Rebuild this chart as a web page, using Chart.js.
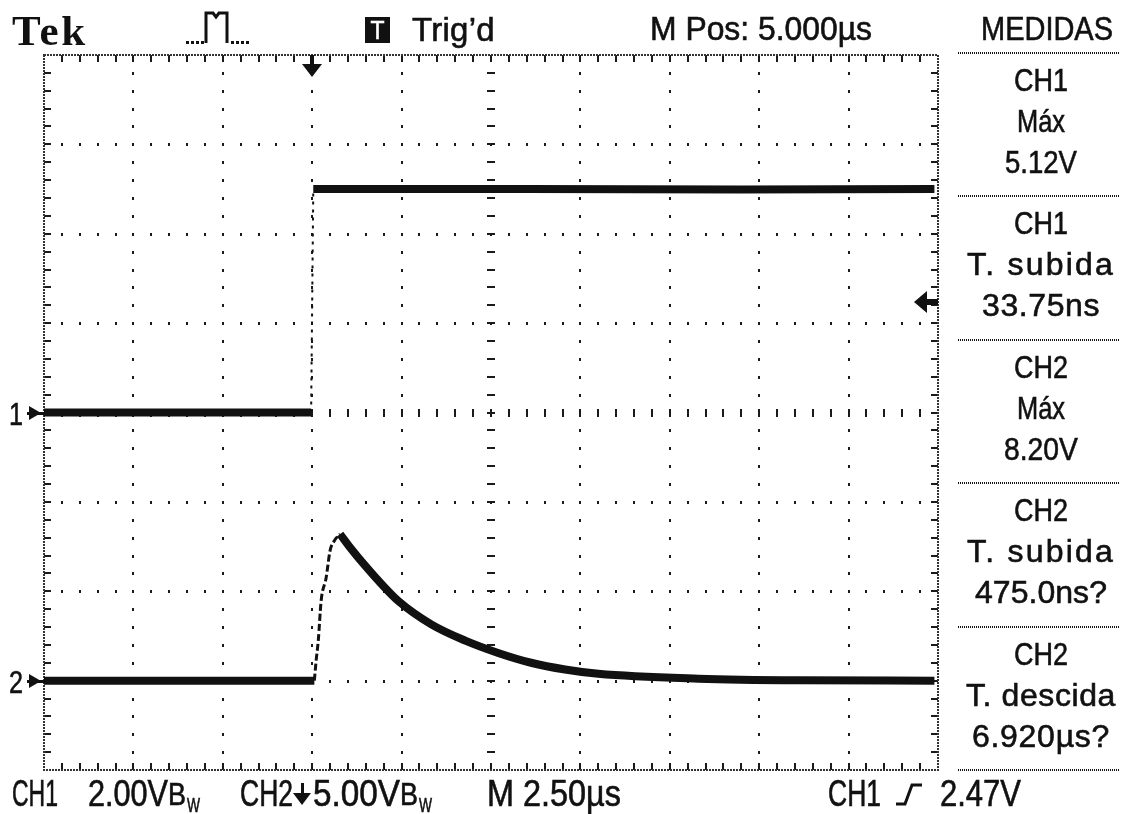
<!DOCTYPE html>
<html>
<head>
<meta charset="utf-8">
<title>Tek</title>
<script src="https://cdn.jsdelivr.net/npm/chart.js@4.4.0/dist/chart.umd.min.js"></script>
<style>
  html, body { margin: 0; padding: 0; background: #fff; }
  canvas { display: block; }
</style>
</head>
<body>
<canvas id="scope" width="1121" height="814"></canvas>
<script>
// timebase: 2.50 us/div, 10 div across, trigger 3 div from the left
const timeDivs = 10;
const usPerDiv = 2.5;
const preTrigDivs = 3;
const vertDivs = 8;

// CH1: 2.00 V/div, ground on the centre line
const ch1VoltsPerDiv = 2.0;
const ch1Ground = 0;
const ch1Time  = [-7.55, -0.03, 0.03, 6.0, 12.0, 17.4];
const ch1Volts = [0, 0, 5.0, 5.0, 4.99, 5.0];

// CH2: 5.00 V/div, ground 3 div below centre
const ch2VoltsPerDiv = 5.0;
const ch2Ground = -3;
const ch2Time  = [-7.55, 0.06, 0.11, 0.17, 0.25, 0.39, 0.50, 0.62, 0.78, 1.06, 1.48, 1.93, 2.40, 3.33, 4.28, 5.20, 6.12, 7.07, 8.0, 10.8, 13.6, 17.4];
const ch2Volts = [0, 0, 1.12, 2.24, 4.47, 5.76, 7.27, 7.83, 8.2, 7.45, 6.43, 5.42, 4.47, 3.15, 2.24, 1.55, 1.0, 0.62, 0.38, 0.11, 0.02, 0.0];
const ch2PeakIdx = 8;

const trigLevel = 2.47; // volts on CH1

// readouts
const headerTexts = ['Trig\u2019d', 'M Pos: 5.000\u00b5s', 'MEDIDAS'];
const measBlocks = [
  ['CH1', 'M\u00e1x', '5.12V'],
  ['CH1', 'T. subida', '33.75ns'],
  ['CH2', 'M\u00e1x', '8.20V'],
  ['CH2', 'T. subida', '475.0ns?'],
  ['CH2', 'T. descida', '6.920\u00b5s?']
];
const footerTexts = ['CH1', '2.00V', 'CH2', '5.00V', 'M 2.50\u00b5s', 'CH1', '2.47V'];

const tMin = -preTrigDivs * usPerDiv;
const tMax = tMin + timeDivs * usPerDiv;

function toDivs(times, volts, vpd, gnd, from, to) {
  const out = [];
  for (let i = from; i <= to; i++) out.push({ x: times[i], y: gnd + volts[i] / vpd });
  return out;
}

const LCD = '"Liberation Sans", Arial, sans-serif';

// text fitted to a given width (wide strings get letter spacing), cap height in px
function lcd(c, str, x, y, w, cap, align, family, bold) {
  c.save();
  c.font = (bold ? 'bold ' : '') + Math.round(cap / 0.72) + 'px ' + (family || LCD);
  c.textAlign = 'left';
  c.textBaseline = 'alphabetic';
  let m = c.measureText(str).width;
  if (w > m && str.length > 1 && 'letterSpacing' in c) {
    c.letterSpacing = ((w - m) / str.length).toFixed(2) + 'px';
    m = c.measureText(str).width;
  }
  const left = align === 'center' ? x - w / 2 : x;
  c.translate(left, y);
  c.scale(w / m, 1);
  c.fillText(str, 0, 0);
  if (!bold) {
    c.lineWidth = 0.6;
    c.strokeStyle = c.fillStyle;
    c.strokeText(str, 0, 0);
  }
  c.restore();
}

const graticule = {
  id: 'graticule',
  beforeDatasetsDraw(chart) {
    const c = chart.ctx, a = chart.chartArea;
    const xs = chart.scales.x, ys = chart.scales.y;
    const minorPerDiv = 5;
    c.save();
    c.fillStyle = '#1a1a1a';

    // dotted major lines, one dot per minor division
    for (let k = 1; k < timeDivs; k++) {
      const x = Math.round(xs.getPixelForValue(tMin + k * usPerDiv));
      for (let j = 1; j < vertDivs * minorPerDiv; j++) {
        const y = Math.round(ys.getPixelForValue(-vertDivs / 2 + j / minorPerDiv));
        if (k === timeDivs / 2) c.fillRect(x - 4, y - 1, 8, 2);
        else c.fillRect(x - 1, y - 1, 2, 3);
      }
    }
    for (let k = 1; k < vertDivs; k++) {
      const y = Math.round(ys.getPixelForValue(-vertDivs / 2 + k));
      for (let j = 1; j < timeDivs * minorPerDiv; j++) {
        const x = Math.round(xs.getPixelForValue(tMin + j * usPerDiv / minorPerDiv));
        if (k === vertDivs / 2) c.fillRect(x - 1, y - 4, 2, 8);
        else c.fillRect(x - 1, y - 1, 2, 3);
      }
    }

    // border ticks
    for (let j = 1; j < timeDivs * minorPerDiv; j++) {
      const x = Math.round(xs.getPixelForValue(tMin + j * usPerDiv / minorPerDiv));
      c.fillRect(x - 1, a.top, 2, 7);
      c.fillRect(x - 1, a.bottom - 7, 2, 7);
    }
    for (let j = 1; j < vertDivs * minorPerDiv; j++) {
      const y = Math.round(ys.getPixelForValue(-vertDivs / 2 + j / minorPerDiv));
      c.fillRect(a.left, y - 1, 7, 2);
      c.fillRect(a.right - 7, y - 1, 7, 2);
    }
    c.strokeStyle = '#333';
    c.lineWidth = 2;
    c.setLineDash([2, 1]);
    c.strokeRect(a.left, a.top, a.right - a.left, a.bottom - a.top);
    c.restore();
  },
  afterDraw(chart) {
    const c = chart.ctx, a = chart.chartArea;
    const xs = chart.scales.x, ys = chart.scales.y;
    c.save();
    c.fillStyle = '#111';
    c.strokeStyle = '#111';

    // header
    lcd(c, 'Tek', 12, 45, 76, 31, 'left', '"Liberation Serif", "DejaVu Serif", serif', true);
    c.lineWidth = 3;
    c.beginPath();
    c.moveTo(206, 43); c.lineTo(206, 13); c.lineTo(213, 13); c.lineTo(216, 17);
    c.lineTo(219, 13); c.lineTo(227, 13); c.lineTo(227, 43);
    c.stroke();
    for (let x = 186; x < 204; x += 5) c.fillRect(x, 41, 3, 3);
    for (let x = 231; x < 250; x += 5) c.fillRect(x, 41, 3, 3);
    c.fillRect(365, 17, 25, 26);
    c.fillStyle = '#fff';
    lcd(c, 'T', 377.5, 39, 14, 19, 'center');
    c.fillStyle = '#111';
    lcd(c, headerTexts[0], 412, 41, 83, 24, 'left');
    lcd(c, headerTexts[1], 650, 40, 222, 24, 'left');
    lcd(c, headerTexts[2], 981, 40, 132, 24, 'left');

    // measurement panel
    const sepY = [53, 196, 340, 483, 627, 770];
    c.lineWidth = 2;
    c.setLineDash([1, 1]);
    sepY.forEach(y => { c.beginPath(); c.moveTo(958, y); c.lineTo(1119, y); c.stroke(); });
    c.setLineDash([]);
    const panelW = {
      'CH1': 54, 'CH2': 54, 'M\u00e1x': 48, '5.12V': 72, '8.20V': 74,
      'T. subida': 148, 'T. descida': 150, '33.75ns': 118, '475.0ns?': 132, '6.920\u00b5s?': 138
    };
    measBlocks.forEach((blk, b) => {
      blk.forEach((s, i) => {
        lcd(c, s, 1041, sepY[b] + 38 + i * 41, panelW[s], 23, 'center');
      });
    });

    // footer
    lcd(c, footerTexts[0], 12, 806, 46, 26, 'left');
    lcd(c, footerTexts[1], 88, 806, 80, 26, 'left');
    lcd(c, 'B', 168, 805, 18, 22, 'left');
    lcd(c, 'W', 187, 812, 13, 15, 'left');
    lcd(c, footerTexts[2], 240, 806, 53, 26, 'left');
    c.fillRect(301, 783, 3, 12);
    c.beginPath(); c.moveTo(293, 793); c.lineTo(311, 793); c.lineTo(302, 805); c.closePath(); c.fill();
    lcd(c, footerTexts[3], 313, 806, 87, 26, 'left');
    lcd(c, 'B', 400, 805, 18, 22, 'left');
    lcd(c, 'W', 419, 812, 13, 15, 'left');
    lcd(c, footerTexts[4], 487, 806, 134, 26, 'left');
    lcd(c, footerTexts[5], 828, 806, 53, 26, 'left');
    c.lineWidth = 3;
    c.beginPath();
    c.moveTo(896, 804); c.lineTo(905, 804); c.lineTo(912, 785); c.lineTo(922, 785);
    c.stroke();
    lcd(c, footerTexts[6], 940, 806, 81, 26, 'left');

    // trigger position marker
    const tx = Math.round(xs.getPixelForValue(0));
    c.fillRect(tx - 2, a.top, 4, 12);
    c.beginPath(); c.moveTo(tx - 10, a.top + 9); c.lineTo(tx + 10, a.top + 9); c.lineTo(tx, a.top + 22); c.closePath(); c.fill();

    // trigger level marker
    const ty = Math.round(ys.getPixelForValue(ch1Ground + trigLevel / ch1VoltsPerDiv));
    c.fillRect(a.right - 12, ty - 3, 12, 6);
    c.beginPath(); c.moveTo(a.right - 24, ty); c.lineTo(a.right - 11, ty - 11); c.lineTo(a.right - 11, ty + 11); c.closePath(); c.fill();

    // channel ground markers
    [[ '1', ch1Ground ], [ '2', ch2Ground ]].forEach(([lbl, g]) => {
      const y = Math.round(ys.getPixelForValue(g));
      lcd(c, lbl, 9, y + 12, 14, 23, 'left');
      c.fillRect(27, y - 1, a.left - 27, 3);
      c.beginPath(); c.moveTo(29, y - 7); c.lineTo(41, y); c.lineTo(29, y + 7); c.closePath(); c.fill();
    });
    c.restore();
  }
};

const trace = (data, width, dash, smooth) => ({
  data, showLine: true, borderColor: '#111', borderWidth: width,
  borderDash: dash || [], pointRadius: 0, fill: false,
  cubicInterpolationMode: smooth ? 'monotone' : 'default', tension: smooth ? 0.4 : 0
});

new Chart(document.getElementById('scope'), {
  type: 'scatter',
  data: {
    datasets: [
      trace(toDivs(ch1Time, ch1Volts, ch1VoltsPerDiv, ch1Ground, 0, 1), 8),
      trace(toDivs(ch1Time, ch1Volts, ch1VoltsPerDiv, ch1Ground, 1, 2), 2, [3, 5]),
      trace(toDivs(ch1Time, ch1Volts, ch1VoltsPerDiv, ch1Ground, 2, ch1Time.length - 1), 8),
      trace(toDivs(ch2Time, ch2Volts, ch2VoltsPerDiv, ch2Ground, 0, 1), 8),
      trace(toDivs(ch2Time, ch2Volts, ch2VoltsPerDiv, ch2Ground, 1, ch2PeakIdx), 3, [7, 3], true),
      trace(toDivs(ch2Time, ch2Volts, ch2VoltsPerDiv, ch2Ground, ch2PeakIdx, ch2Time.length - 1), 8, null, true)
    ]
  },
  options: {
    responsive: false,
    animation: false,
    devicePixelRatio: 1,
    layout: { padding: { left: 44, right: 183, top: 55, bottom: 44 } },
    scales: {
      x: { type: 'linear', min: tMin, max: tMax, display: false },
      y: { type: 'linear', min: -vertDivs / 2, max: vertDivs / 2, display: false }
    },
    plugins: { legend: { display: false }, tooltip: { enabled: false } },
    events: []
  },
  plugins: [graticule]
});
</script>
</body>
</html>
